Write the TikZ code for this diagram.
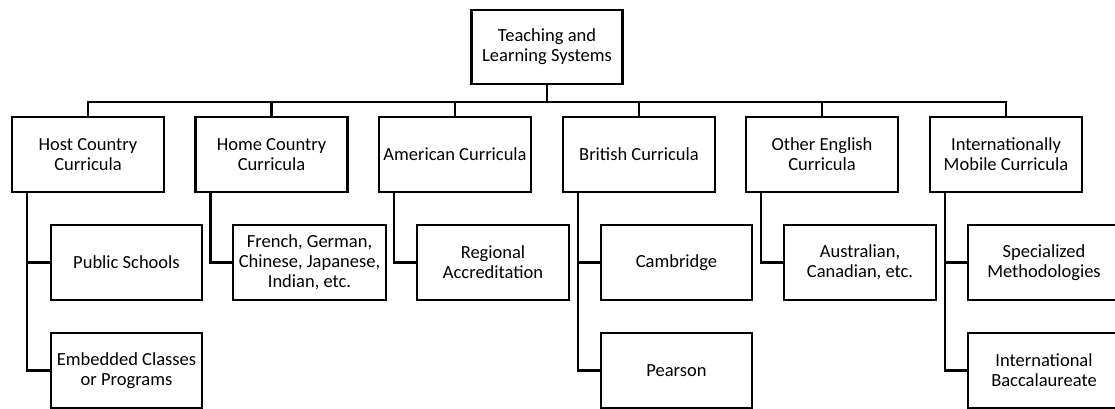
\documentclass[tikz,border=0pt]{standalone}
\usepackage{fontspec}
\setmainfont{Carlito}
\begin{document}
\begin{tikzpicture}[x=1pt,y=-1pt,
  box/.style={draw=black, line width=2.2pt, fill=white, minimum width=152pt,
    minimum height=75pt, inner sep=0pt, align=center,
    font=\fontsize{18.5}{20}\selectfont},
  link/.style={draw=black, line width=2.2pt, line join=miter}]
\useasboundingbox (0,0) rectangle (1115,408);
\fill[white] (0,0) rectangle (1115,408);

% root
\node[box, minimum width=151pt, minimum height=74pt] (root) at (547,47) {Teaching and\\Learning Systems};

% first level
\node[box] (host)  at (88,154.5)   {Host Country\\Curricula};
\node[box] (home)  at (271.5,154.5){Home Country\\Curricula};
\node[box] (amer)  at (455,154.5)  {American Curricula};
\node[box] (brit)  at (639,154.5)  {British Curricula};
\node[box] (other) at (822,154.5)  {Other English\\Curricula};
\node[box] (intl)  at (1006,154.5) {Internationally\\Mobile Curricula};

% second level
\node[box, minimum width=151pt] (public) at (126.5,262.5) {Public Schools};
\node[box, minimum width=151pt] (embed)  at (126.5,370.5) {Embedded Classes\\or Programs};
\node[box, minimum width=153pt] (french) at (309.5,262.5) {French, German,\\Chinese, Japanese,\\Indian, etc.};
\node[box] (region) at (493,262.5) {Regional\\Accreditation};
\node[box, minimum width=151pt] (camb)   at (676.5,262.5) {Cambridge};
\node[box, minimum width=151pt] (pears)  at (676.5,370.5) {Pearson};
\node[box] (austr)  at (860,262.5) {Australian,\\Canadian, etc.};
\node[box] (spec)   at (1044,262.5) {Specialized\\Methodologies};
\node[box] (ib)     at (1044,370.5) {International\\Baccalaureate};

% root to first level
\foreach \c in {host,home,amer,brit,other,intl}
  \draw[link] (root.south) -- ++(0,17) -| (\c.north);

% first level to second level
\draw[link] ([xshift=16pt]host.south west) |- (public.west);
\draw[link] ([xshift=16pt]host.south west) |- (embed.west);
\draw[link] ([xshift=16pt]home.south west) |- (french.west);
\draw[link] ([xshift=16pt]amer.south west) |- (region.west);
\draw[link] ([xshift=16pt]brit.south west) |- (camb.west);
\draw[link] ([xshift=16pt]brit.south west) |- (pears.west);
\draw[link] ([xshift=16pt]other.south west) |- (austr.west);
\draw[link] ([xshift=16pt]intl.south west) |- (spec.west);
\draw[link] ([xshift=16pt]intl.south west) |- (ib.west);
\end{tikzpicture}
\end{document}
